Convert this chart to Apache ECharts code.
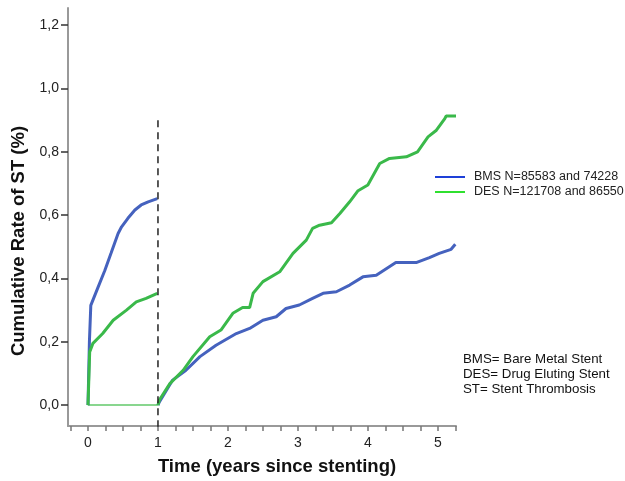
<!DOCTYPE html>
<html>
<head>
<meta charset="utf-8">
<script src="https://cdn.jsdelivr.net/npm/echarts@6/dist/echarts.min.js"></script>
<style>
  html, body { margin: 0; padding: 0; background: #fff; }
  #chart { width: 625px; height: 481px; }
</style>
</head>
<body>
<div id="chart"></div>
<script>
// values: [years, cumulative rate %]
const bmsName = 'BMS N=85583 and 74228'
const desName = 'DES N=121708 and 86550'

const bmsFirstYear = [
  [0, 0], [0.02, 0.2], [0.04, 0.315], [0.14, 0.37], [0.24, 0.425], [0.33, 0.48],
  [0.43, 0.542], [0.48, 0.563], [0.57, 0.59], [0.67, 0.616], [0.76, 0.632],
  [0.86, 0.642], [0.99, 0.652]
]
const desFirstYear = [
  [0, 0], [0.024, 0.168], [0.07, 0.195], [0.21, 0.226], [0.36, 0.268], [0.55, 0.3],
  [0.69, 0.326], [0.83, 0.337], [0.99, 0.353]
]
const bmsLater = [
  [1, 0], [1.02, 0.01], [1.21, 0.079], [1.4, 0.11], [1.6, 0.153], [1.83, 0.189],
  [2.12, 0.226], [2.31, 0.242], [2.5, 0.268], [2.69, 0.279], [2.83, 0.305],
  [3.02, 0.316], [3.21, 0.337], [3.36, 0.353], [3.55, 0.358], [3.74, 0.379],
  [3.93, 0.405], [4.12, 0.41], [4.4, 0.45], [4.69, 0.45], [4.88, 0.466],
  [5.02, 0.479], [5.19, 0.492], [5.25, 0.508]
]
const desLater = [
  [1, 0], [1.02, 0.016], [1.17, 0.068], [1.36, 0.11], [1.5, 0.153], [1.74, 0.216],
  [1.9, 0.237], [2.07, 0.29], [2.21, 0.308], [2.31, 0.308], [2.36, 0.353],
  [2.5, 0.39], [2.74, 0.421], [2.93, 0.479], [3.12, 0.521], [3.21, 0.558],
  [3.31, 0.568], [3.48, 0.576], [3.6, 0.605], [3.74, 0.642], [3.86, 0.677],
  [4.0, 0.695], [4.17, 0.763], [4.31, 0.779], [4.55, 0.784], [4.71, 0.8],
  [4.86, 0.847], [4.98, 0.868], [5.1, 0.905], [5.12, 0.913], [5.26, 0.913]
]
const baseline = [[0, 0], [1, 0]]
const landmark = [[1, -0.07], [1, 0.9]]

const xLabels = [0, 1, 2, 3, 4, 5]
const xTicks = [-0.25, 0, 0.25, 0.5, 0.75, 1, 1.25, 1.5, 1.75, 2, 2.25, 2.5, 2.75, 3,
  3.25, 3.5, 3.75, 4, 4.25, 4.5, 4.75, 5, 5.25]
const yTicks = [0, 0.2, 0.4, 0.6, 0.8, 1.0, 1.2]

const font = 'Liberation Sans, Arial, sans-serif'
const blue = '#4562be'
const green = '#3ab94a'

const chart = echarts.init(document.getElementById('chart'))

chart.setOption({
  animation: false,
  textStyle: { fontFamily: font },
  grid: { left: 68, right: 169, top: 8, bottom: 55, containLabel: false },
  xAxis: {
    type: 'value',
    min: -0.286,
    max: 5.26,
    axisLine: { show: true, onZero: false, lineStyle: { color: '#999', width: 2 } },
    axisTick: { show: true, customValues: xTicks, length: 5, lineStyle: { color: '#777', width: 1.5 } },
    axisLabel: { customValues: xLabels, fontSize: 14, color: '#222', margin: 10, fontFamily: font },
    splitLine: { show: false }
  },
  yAxis: {
    type: 'value',
    min: -0.066,
    max: 1.254,
    axisLine: { show: true, onZero: false, lineStyle: { color: '#999', width: 2 } },
    axisTick: { show: true, customValues: yTicks, length: 7, lineStyle: { color: '#333', width: 1.5 } },
    axisLabel: {
      customValues: yTicks, fontSize: 14, color: '#222', margin: 9, fontFamily: font,
      formatter: v => v.toFixed(1).replace('.', ',')
    },
    splitLine: { show: false }
  },
  legend: {
    orient: 'vertical',
    left: 430,
    top: 165,
    icon: 'rect',
    itemWidth: 30,
    itemHeight: 2,
    itemGap: 1,
    textStyle: { fontSize: 12.5, color: '#222', fontFamily: font, lineHeight: 14, padding: [0, 0, 0, 4] },
    data: [
      { name: bmsName, itemStyle: { color: '#1e40d8' } },
      { name: desName, itemStyle: { color: '#2fe02f' } }
    ]
  },
  series: [
    { name: desName, type: 'line', data: baseline, showSymbol: false, lineStyle: { color: '#62c96a', width: 1.5 }, itemStyle: { color: green }, z: 2 },
    { name: bmsName, type: 'line', data: bmsFirstYear, showSymbol: false, lineStyle: { color: blue, width: 3 }, itemStyle: { color: blue }, z: 3 },
    { name: bmsName, type: 'line', data: bmsLater, showSymbol: false, lineStyle: { color: blue, width: 3 }, itemStyle: { color: blue }, z: 3 },
    { name: desName, type: 'line', data: desFirstYear, showSymbol: false, lineStyle: { color: green, width: 3 }, itemStyle: { color: green }, z: 4 },
    { name: desName, type: 'line', data: desLater, showSymbol: false, lineStyle: { color: green, width: 3 }, itemStyle: { color: green }, z: 4 },
    { name: 'landmark', type: 'line', data: landmark, showSymbol: false, lineStyle: { color: '#222', width: 1.5, type: [7, 5] }, z: 5 }
  ],
  graphic: [
    {
      type: 'text', x: 19, y: 241, rotation: Math.PI / 2,
      style: { text: 'Cumulative Rate of ST (%)', font: 'bold 18.5px ' + font, fill: '#111', align: 'center', verticalAlign: 'middle' }
    },
    {
      type: 'text', x: 277, y: 467,
      style: { text: 'Time (years since stenting)', font: 'bold 18.5px ' + font, fill: '#111', align: 'center', verticalAlign: 'middle' }
    },
    {
      type: 'text', x: 463, y: 352,
      style: { text: 'BMS= Bare Metal Stent\nDES= Drug Eluting Stent\nST= Stent Thrombosis', font: '13.3px ' + font, fill: '#111', lineHeight: 15 }
    }
  ]
})
</script>
</body>
</html>
